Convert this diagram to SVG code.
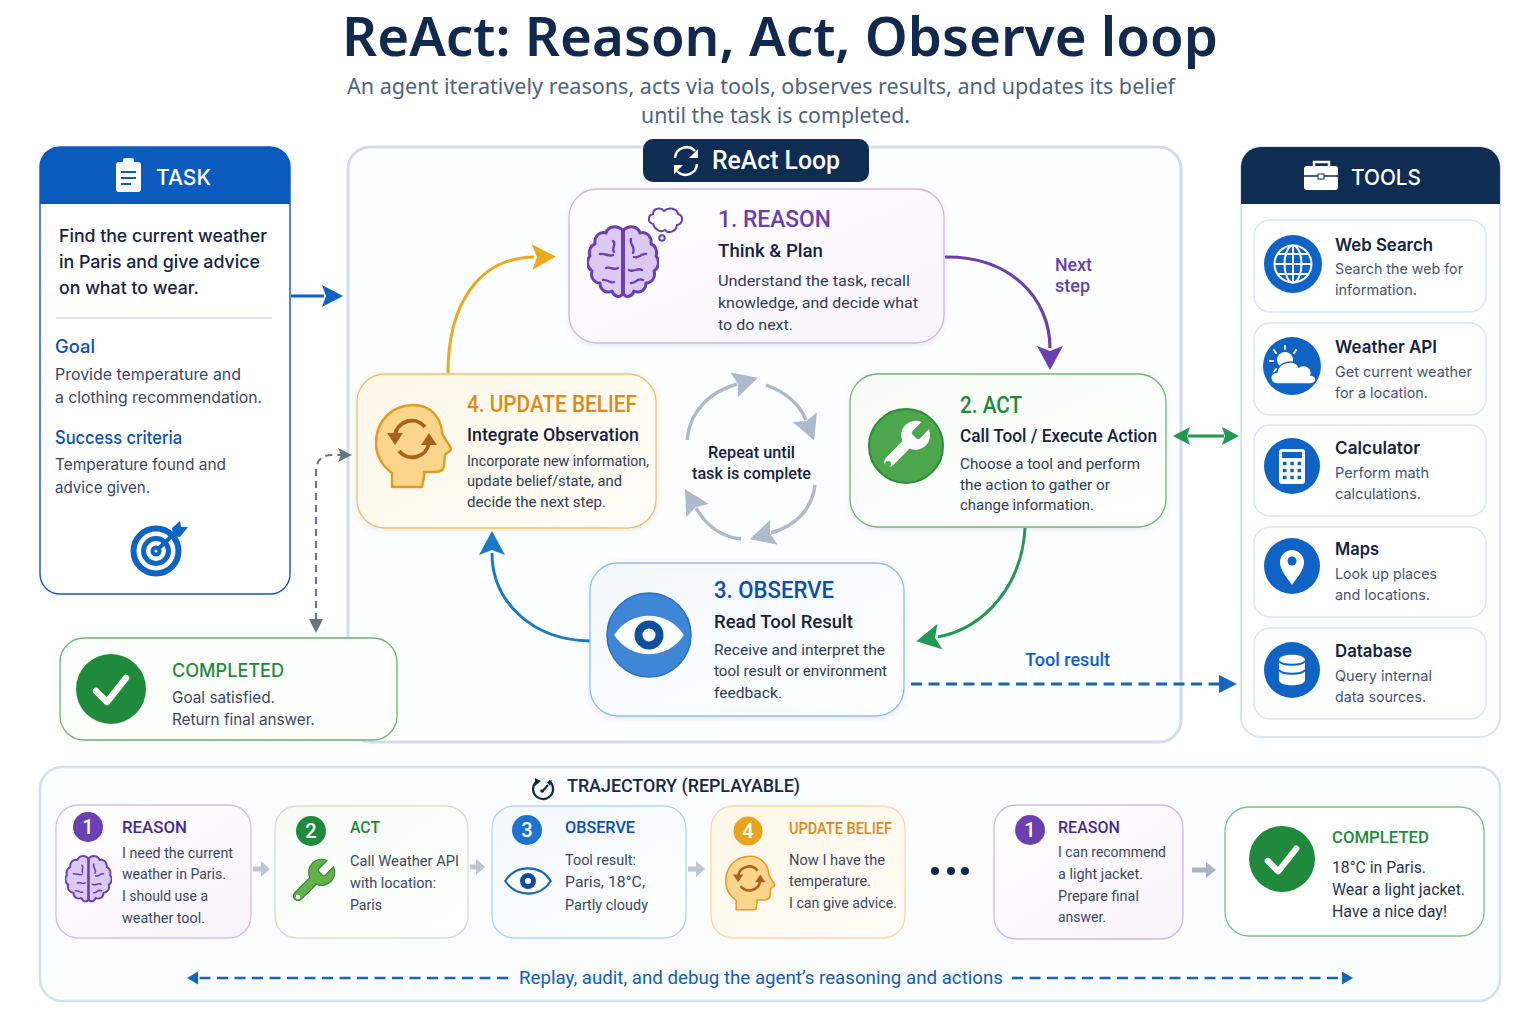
<svg xmlns="http://www.w3.org/2000/svg" width="1536" height="1024" viewBox="0 0 1536 1024">
<style>
text{font-family:Roboto,"Liberation Sans",sans-serif;fill:#26344f}
.title{font-family:"Noto Sans",sans-serif;font-size:55px;font-weight:600;fill:#10294d}
.sub{font-family:"Noto Sans",sans-serif;font-size:22px;fill:#4f627e}
.hd{font-family:Inter,sans-serif;font-size:22px;font-weight:500;fill:#fff}
.tt{font-size:24px;font-weight:500}
.st{font-size:19px;font-weight:500;fill:#14233f}
.bd{font-size:15.5px;fill:#2f3c54}
.bs{font-size:14.5px;fill:#2f3c54}
.tk{font-family:Inter,sans-serif;font-size:17.5px;font-weight:500;fill:#14233f}
.lb{font-family:Inter,sans-serif;font-size:18px;font-weight:500;fill:#0b4fb5}
.b2{font-family:Inter,sans-serif;font-size:16px;fill:#3a4760}
.tn{font-family:Inter,sans-serif;font-size:17.5px;font-weight:600;fill:#14233f}
.td{font-family:Inter,sans-serif;font-size:14.5px;fill:#465470}
.ct{font-size:16.5px;font-weight:500}
.cb{font-size:14.5px;fill:#3a4760}
.c3{font-size:16px;fill:#26344f}
.num{font-size:20px;font-weight:500;fill:#fff;text-anchor:middle}
.card{stroke-width:1.3}
.pu{fill:#6a3fb0}.gr{fill:#1f8a3b}.bl{fill:#0b4fb5}.or{fill:#dd8a1c}.pd{fill:#4a2b95}
.lbl{font-size:18px;font-weight:500}
.conn{fill:none}
</style>
<defs>
<filter id="sh" x="-10%" y="-10%" width="120%" height="125%"><feDropShadow dx="0" dy="2" stdDeviation="3" flood-color="#5a6b8c" flood-opacity=".14"/></filter>
<linearGradient id="gp" x1="0" y1="0" x2="1" y2="1"><stop offset="0" stop-color="#fff"/><stop offset="1" stop-color="#f8f3fd"/></linearGradient>
<linearGradient id="gg" x1="0" y1="0" x2="1" y2="1"><stop offset="0" stop-color="#f7fbf5"/><stop offset="1" stop-color="#fff"/></linearGradient>
<linearGradient id="gb" x1="0" y1="0" x2="1" y2="1"><stop offset="0" stop-color="#f3f8fe"/><stop offset="1" stop-color="#fff"/></linearGradient>
<linearGradient id="go" x1="0" y1="0" x2="1" y2="1"><stop offset="0" stop-color="#fff7e8"/><stop offset="1" stop-color="#fffdf8"/></linearGradient>
<marker id="mPur" markerUnits="userSpaceOnUse" markerWidth="26" markerHeight="28" refX="2" refY="14" orient="auto"><path d="M0 1L24 14L0 27L5 14Z" fill="#6a3fb0"/></marker>
<marker id="mOrg" markerUnits="userSpaceOnUse" markerWidth="26" markerHeight="28" refX="2" refY="14" orient="auto"><path d="M0 1L24 14L0 27L5 14Z" fill="#e9aa1d"/></marker>
<marker id="mGrn" markerUnits="userSpaceOnUse" markerWidth="26" markerHeight="28" refX="2" refY="14" orient="auto"><path d="M0 1L24 14L0 27L5 14Z" fill="#1f9a50"/></marker>
<marker id="mBlu" markerUnits="userSpaceOnUse" markerWidth="26" markerHeight="28" refX="2" refY="14" orient="auto"><path d="M0 1L24 14L0 27L5 14Z" fill="#1a78c9"/></marker>
<marker id="mTask" markerUnits="userSpaceOnUse" markerWidth="24" markerHeight="24" refX="2" refY="11" orient="auto"><path d="M0 0L21 11L0 22L4 11Z" fill="#0f63c4"/></marker>
<marker id="mDb" markerUnits="userSpaceOnUse" markerWidth="20" markerHeight="20" refX="2" refY="9" orient="auto"><path d="M0 0L18 9L0 18Z" fill="#1467bd"/></marker>
<marker id="mGs" markerUnits="userSpaceOnUse" markerWidth="18" markerHeight="18" refX="4" refY="7" orient="auto"><path d="M0 0L14 7L0 14L3 7Z" fill="#6a7487"/></marker>
<marker id="mG2" markerUnits="userSpaceOnUse" markerWidth="20" markerHeight="20" refX="2" refY="9" orient="auto"><path d="M0 0L17 9L0 18L3 9Z" fill="#1f9a50"/></marker>
<marker id="mG2s" markerUnits="userSpaceOnUse" markerWidth="20" markerHeight="20" refX="15" refY="9" orient="auto"><path d="M17 0L0 9L17 18L14 9Z" fill="#1f9a50"/></marker>
<marker id="mCy" markerUnits="userSpaceOnUse" markerWidth="28" markerHeight="28" refX="3" refY="13" orient="auto"><path d="M0 0L25 13L0 26L4 13Z" fill="#aebacb"/></marker>
<marker id="mDs" markerUnits="userSpaceOnUse" markerWidth="14" markerHeight="14" refX="1" refY="6.5" orient="auto"><path d="M0 0L11 6.5L0 13Z" fill="#1467bd"/></marker>
<symbol id="brain" viewBox="0 0 72 76">
<g fill="#dcc9f1" stroke="#6a3fb0" stroke-width="3" stroke-linejoin="round">
<path d="M35.500 6C30 1 21 2 19 9C13 7 7 12 8 20C4 21 1 27 3 32C-1 36 0 44 5 47C3 53 7 59 13 59C13 66 19 70 25 67C27 73 33 74 35.500 70Z"/>
<path d="M36.500 6C42 1 51 2 53 9C59 7 65 12 64 20C68 21 71 27 69 32C73 36 72 44 67 47C69 53 65 59 59 59C59 66 53 70 47 67C45 73 39 74 36.500 70Z"/>
</g>
<g fill="none" stroke="#6a3fb0" stroke-width="2.400" stroke-linecap="round">
<path d="M26 17C30 20 24 24 27 28M13 30C18 29 22 33 26 31M19 44C23 42 27 47 31 44M16 56C21 55 23 60 27 58"/>
<path d="M44 15C42 20 49 23 46 29M59 30C54 29 52 35 47 33M55 46C50 43 47 49 42 46M56 56C50 53 49 60 44 59"/>
</g>
</symbol>
<symbol id="head" viewBox="0 0 78 86">
<path d="M17 84V70C6 62 1 52 1 40C1 17 18 2 38 2C56 2 66 15 67 29C67 33 76 43 76 46C76 49 70 50 70 52L69 62C69 67 65 69 60 69H49V74L47 84Z" fill="#fcd58c" stroke="#e29b22" stroke-width="2.400" stroke-linejoin="round"/>
<g fill="none" stroke="#a9621b" stroke-width="4">
<path d="M50 24A17 17 0 0 0 20 32"/>
<path d="M24 48A17 17 0 0 0 54 40"/>
</g>
<path d="M12 30L28 30L20 42Z M46 42L62 42L54 30Z" fill="#a9621b"/>
</symbol>
<symbol id="wrench" viewBox="0 0 24 24">
<path d="M14.7 6.3a1 1 0 0 0 0 1.4l1.6 1.6a1 1 0 0 0 1.4 0l3.77-3.77a6 6 0 0 1-7.94 7.94l-6.91 6.91a2.12 2.12 0 0 1-3-3l6.91-6.91a6 6 0 0 1 7.94-7.94l-3.76 3.76z"/>
</symbol>
<symbol id="eye" viewBox="0 0 80 48">
<path d="M2 24C20 -4 60 -4 78 24C60 52 20 52 2 24Z"/>
</symbol>
<symbol id="check" viewBox="0 0 40 40"><path d="M5 22L16 33L35 9" fill="none" stroke="#fff" stroke-width="6.500" stroke-linecap="round" stroke-linejoin="round"/></symbol>
</defs>

<rect width="1536" height="1024" fill="#fff"/>
<text class="title" x="342" y="56" textLength="876" lengthAdjust="spacingAndGlyphs">ReAct: Reason, Act, Observe loop</text>
<text class="sub" x="347" y="94" textLength="828" lengthAdjust="spacingAndGlyphs">An agent iteratively reasons, acts via tools, observes results, and updates its belief</text>
<text class="sub" x="641" y="123" textLength="269" lengthAdjust="spacingAndGlyphs">until the task is completed.</text>

<g id="loop-panel">
<rect x="348" y="147" width="833" height="595" rx="22" fill="#fdfeff" stroke="#d3dbec" stroke-width="3"/>
</g>
<g id="trajectory-panel">
<rect x="40" y="767" width="1460" height="234" rx="22" fill="#fbfcfe" stroke="#d6e0ea" stroke-width="2.500"/>
<g fill="none" stroke="#10294d" stroke-width="2.200"><path d="M549 781A10 10 0 1 1 536 782"/><path d="M542 792L548 785"/></g>
<path d="M535 778L541 781L535 786ZM547 782L552 780L550 786Z" fill="#10294d"/><circle cx="542" cy="791" r="1.800" fill="#10294d"/>
<text x="567" y="792" font-size="18" font-weight="500" style="fill:#14294a" textLength="233" lengthAdjust="spacingAndGlyphs">TRAJECTORY (REPLAYABLE)</text>
</g>

<g id="task">
<path d="M40 204V167a20 20 0 0 1 20-20H270a20 20 0 0 1 20 20V204Z" fill="#0b5bbf"/>
<rect x="40" y="147" width="250" height="447" rx="20" fill="none" stroke="#0b5bbf" stroke-width="1.400"/>
<rect x="116" y="162" width="25" height="30" rx="3" fill="#fff"/><rect x="123" y="158" width="11" height="8" rx="2" fill="#fff"/>
<path d="M121 172H136M121 178H136M121 184H131" stroke="#0b5bbf" stroke-width="2"/>
<text class="hd" x="156" y="185" textLength="55" lengthAdjust="spacingAndGlyphs">TASK</text>
<text class="tk" x="59" y="242" textLength="208" lengthAdjust="spacingAndGlyphs">Find the current weather</text>
<text class="tk" x="59" y="268" textLength="201" lengthAdjust="spacingAndGlyphs">in Paris and give advice</text>
<text class="tk" x="59" y="294" textLength="140" lengthAdjust="spacingAndGlyphs">on what to wear.</text>
<path d="M56 318H272" stroke="#d5dcec" stroke-width="1.600"/>
<text class="lb" x="55" y="353" textLength="40" lengthAdjust="spacingAndGlyphs">Goal</text>
<text class="b2" x="55" y="380" textLength="186" lengthAdjust="spacingAndGlyphs">Provide temperature and</text>
<text class="b2" x="55" y="403" textLength="207" lengthAdjust="spacingAndGlyphs">a clothing recommendation.</text>
<text class="lb" x="55" y="444" textLength="127" lengthAdjust="spacingAndGlyphs">Success criteria</text>
<text class="b2" x="55" y="470" textLength="171" lengthAdjust="spacingAndGlyphs">Temperature found and</text>
<text class="b2" x="55" y="493" textLength="95" lengthAdjust="spacingAndGlyphs">advice given.</text>
<g fill="none" stroke="#0f63c4">
<circle cx="156" cy="551" r="22.500" stroke-width="6"/><circle cx="156" cy="551" r="12.500" stroke-width="5"/><circle cx="156" cy="551" r="3.500" stroke-width="4"/>
<path d="M157 550L178 530" stroke-width="4"/></g>
<path d="M172 528L180 521L181 527L188 527L180 537L173 536Z" fill="#0f63c4"/>
</g>

<g id="pill">
<rect x="643" y="139" width="226" height="43" rx="10" fill="#0f2c52"/>
<g fill="none" stroke="#fff" stroke-width="2.600"><path d="M675 158a11.500 11.500 0 0 1 20-7"/><path d="M697 164a11.500 11.500 0 0 1-20 7"/></g>
<path d="M698 149V158H689ZM674 174V165H683Z" fill="#fff"/>
<text x="712" y="169" font-size="25" font-weight="500" style="fill:#fff" textLength="128" lengthAdjust="spacingAndGlyphs">ReAct Loop</text>
</g>

<g id="connectors" class="conn">
<path d="M291 296H324" stroke="#0f63c4" stroke-width="3" marker-end="url(#mTask)"/>
<path d="M448 373C448 305 478 258 534 257" stroke="#e9aa1d" stroke-width="3" marker-end="url(#mOrg)"/>
<path d="M945 257C1010 256 1050 298 1050 348" stroke="#6a3fb0" stroke-width="3.200" marker-end="url(#mPur)"/>
<path d="M1025 528C1022 585 985 628 938 637" stroke="#1f9a50" stroke-width="3" marker-end="url(#mGrn)"/>
<path d="M590 641C530 640 492 600 492 553" stroke="#1a78c9" stroke-width="3" marker-end="url(#mBlu)"/>
<path d="M1188 436H1224" stroke="#1f9a50" stroke-width="3" marker-start="url(#mG2s)" marker-end="url(#mG2)"/>
<path d="M911 684H1221" stroke="#1467bd" stroke-width="3" stroke-dasharray="11 6.500" marker-end="url(#mDb)"/>
<path d="M316 620V472C316 462 320 456 330 455H342" stroke="#6a7487" stroke-width="2.200" stroke-dasharray="7 5" marker-end="url(#mGs)"/>
<path d="M309 619H323L316 633Z" fill="#6a7487"/>
<g stroke="#aebacb" stroke-width="3.400">
<path d="M687 440C690 410 710 392 737 384" marker-end="url(#mCy)"/>
<path d="M766 385C786 392 800 405 806 420" marker-end="url(#mCy)"/>
<path d="M815 485C812 510 795 526 771 533" marker-end="url(#mCy)"/>
<path d="M741 539C722 537 707 527 696 508" marker-end="url(#mCy)"/>
</g>
<path d="M508 978H197" stroke="#1467bd" stroke-width="2.600" stroke-dasharray="11 6.500" marker-end="url(#mDs)"/>
<path d="M1012 978H1343" stroke="#1467bd" stroke-width="2.600" stroke-dasharray="11 6.500" marker-end="url(#mDs)"/>
</g>

<g id="reason">
<rect class="card" x="569" y="189" width="375" height="154" rx="28" fill="url(#gp)" stroke="#cdb9e8" filter="url(#sh)"/>
<use href="#brain" x="587" y="224" width="72" height="76"/>
<g fill="#fff" stroke="#6a3fb0" stroke-width="2">
<path d="M653 224C647 222 648 215 653 214C653 208 661 207 664 211C668 207 677 208 678 214C684 216 683 224 677 225C676 232 668 234 665 230C661 233 655 230 653 224Z"/>
<circle cx="662" cy="238" r="2.700"/>
</g>
<text class="tt pu" x="718" y="227" textLength="113" lengthAdjust="spacingAndGlyphs">1. REASON</text>
<text class="st" x="718" y="257" textLength="105" lengthAdjust="spacingAndGlyphs">Think &amp; Plan</text>
<text class="bd" x="718" y="286" textLength="192" lengthAdjust="spacingAndGlyphs">Understand the task, recall</text>
<text class="bd" x="718" y="308" textLength="200" lengthAdjust="spacingAndGlyphs">knowledge, and decide what</text>
<text class="bd" x="718" y="330" textLength="75" lengthAdjust="spacingAndGlyphs">to do next.</text>
</g>
<text class="lbl pu" x="1055" y="271" textLength="37" lengthAdjust="spacingAndGlyphs">Next</text>
<text class="lbl pu" x="1055" y="292" textLength="35" lengthAdjust="spacingAndGlyphs">step</text>

<g id="update-belief">
<rect class="card" x="357" y="374" width="299" height="154" rx="28" fill="url(#go)" stroke="#f2c164" filter="url(#sh)"/>
<use href="#head" x="375" y="403" width="78" height="86"/>
<text class="tt or" x="467" y="412" textLength="170" lengthAdjust="spacingAndGlyphs">4. UPDATE BELIEF</text>
<text class="st" x="467" y="441" textLength="172" lengthAdjust="spacingAndGlyphs">Integrate Observation</text>
<text class="bs" x="467" y="466" textLength="182" lengthAdjust="spacingAndGlyphs">Incorporate new information,</text>
<text class="bs" x="467" y="486" textLength="155" lengthAdjust="spacingAndGlyphs">update belief/state, and</text>
<text class="bs" x="467" y="507" textLength="139" lengthAdjust="spacingAndGlyphs">decide the next step.</text>
</g>

<g id="repeat">
<text x="708" y="458" font-size="16.500" font-weight="500" style="fill:#14233f" textLength="87" lengthAdjust="spacingAndGlyphs">Repeat until</text>
<text x="692" y="479" font-size="16.500" font-weight="500" style="fill:#14233f" textLength="119" lengthAdjust="spacingAndGlyphs">task is complete</text>
</g>

<g id="act">
<rect class="card" x="850" y="374" width="316" height="153" rx="28" fill="url(#gg)" stroke="#73b676" filter="url(#sh)"/>
<circle cx="906" cy="446" r="37" fill="#4ca64c" stroke="#2d8a3a" stroke-width="2"/>
<use href="#wrench" x="877" y="416" width="58" height="58" fill="#fff"/>
<circle cx="888" cy="464" r="3" fill="#4ca64c"/>
<text class="tt gr" x="960" y="413" textLength="62" lengthAdjust="spacingAndGlyphs">2. ACT</text>
<text class="st" x="960" y="442" textLength="197" lengthAdjust="spacingAndGlyphs">Call Tool / Execute Action</text>
<text class="bd" x="960" y="469" textLength="180" lengthAdjust="spacingAndGlyphs">Choose a tool and perform</text>
<text class="bd" x="960" y="490" textLength="150" lengthAdjust="spacingAndGlyphs">the action to gather or</text>
<text class="bd" x="960" y="510" textLength="134" lengthAdjust="spacingAndGlyphs">change information.</text>
</g>

<g id="observe">
<rect class="card" x="590" y="563" width="314" height="153" rx="28" fill="url(#gb)" stroke="#93bee9" filter="url(#sh)"/>
<circle cx="649" cy="635" r="42" fill="#3f86d6" stroke="#2b6fc0" stroke-width="1.500"/>
<use href="#eye" x="612" y="613" width="74" height="44" fill="#fff"/>
<circle cx="649" cy="635" r="10.500" fill="#fff" stroke="#0f4f9e" stroke-width="8"/>
<text class="tt bl" x="714" y="598" textLength="120" lengthAdjust="spacingAndGlyphs">3. OBSERVE</text>
<text class="st" x="714" y="628" textLength="139" lengthAdjust="spacingAndGlyphs">Read Tool Result</text>
<text class="bd" x="714" y="655" textLength="171" lengthAdjust="spacingAndGlyphs">Receive and interpret the</text>
<text class="bd" x="714" y="676" textLength="173" lengthAdjust="spacingAndGlyphs">tool result or environment</text>
<text class="bd" x="714" y="698" textLength="68" lengthAdjust="spacingAndGlyphs">feedback.</text>
</g>
<text class="lbl" style="fill:#0f5fbf" x="1025" y="666" textLength="85" lengthAdjust="spacingAndGlyphs">Tool result</text>

<g id="completed">
<rect x="60" y="638" width="337" height="102" rx="24" fill="#fdfffc" stroke="#6bb56e" stroke-width="1.300"/>
<circle cx="111" cy="689" r="35" fill="#1f8a3b"/>
<use href="#check" x="89" y="669" width="44" height="40"/>
<text class="lb gr" style="fill:#1f8a3b" x="172" y="677" textLength="112" lengthAdjust="spacingAndGlyphs">COMPLETED</text>
<text class="b2" x="172" y="703" textLength="103" lengthAdjust="spacingAndGlyphs">Goal satisfied.</text>
<text class="b2" x="172" y="725" textLength="143" lengthAdjust="spacingAndGlyphs">Return final answer.</text>
</g>

<g id="tools">
<rect x="1241" y="147" width="259" height="590" rx="20" fill="#fff" stroke="#dde4f1" stroke-width="2"/>
<path d="M1241 204V167a20 20 0 0 1 20-20H1480a20 20 0 0 1 20 20V204Z" fill="#0f2c52"/>
<rect x="1304" y="166" width="34" height="24" rx="3" fill="#fff"/>
<path d="M1314 166V162H1329V166" fill="none" stroke="#fff" stroke-width="2.500"/>
<path d="M1304 176H1338" stroke="#0f2c52" stroke-width="1.600"/><rect x="1318" y="174" width="6" height="5" fill="#fff" stroke="#0f2c52"/>
<text class="hd" x="1351" y="185" textLength="70" lengthAdjust="spacingAndGlyphs">TOOLS</text>
</g>

<g id="tool-web-search">
<rect x="1254" y="220" width="232" height="92" rx="16" fill="#fff" stroke="#dbe5f5" stroke-width="1.500"/>
<circle cx="1293" cy="264" r="29" fill="#0f63c4"/>
<g fill="none" stroke="#fff" stroke-width="2"><circle cx="1293" cy="264" r="18.500"/><ellipse cx="1293" cy="264" rx="8.500" ry="18.500"/><path d="M1293 245V283M1275 264H1311M1278 254H1308M1278 274H1308"/></g>
<text class="tn" x="1335" y="251" textLength="98" lengthAdjust="spacingAndGlyphs">Web Search</text>
<text class="td" x="1335" y="274" textLength="128" lengthAdjust="spacingAndGlyphs">Search the web for</text>
<text class="td" x="1335" y="295" textLength="82" lengthAdjust="spacingAndGlyphs">information.</text>
</g>
<g id="tool-weather-api">
<rect x="1254" y="323" width="232" height="92" rx="16" fill="#fff" stroke="#dbe5f5" stroke-width="1.500"/>
<circle cx="1292" cy="366" r="29" fill="#0f63c4"/>
<circle cx="1285" cy="360" r="8" fill="#fff"/>
<path d="M1285 346V349M1274 350L1276 353M1270 361H1273M1274 372L1276 369M1296 350L1294 353" stroke="#fff" stroke-width="2" stroke-linecap="round"/>
<path d="M1278 384C1269 384 1268 373 1277 372C1279 361 1295 359 1299 367C1305 363 1313 368 1311 375C1318 376 1317 384 1310 384Z" fill="#fff" stroke="#0f63c4" stroke-width="1.500"/>
<text class="tn" x="1335" y="353" textLength="102" lengthAdjust="spacingAndGlyphs">Weather API</text>
<text class="td" x="1335" y="377" textLength="137" lengthAdjust="spacingAndGlyphs">Get current weather</text>
<text class="td" x="1335" y="398" textLength="93" lengthAdjust="spacingAndGlyphs">for a location.</text>
</g>
<g id="tool-calculator">
<rect x="1254" y="425" width="232" height="91" rx="16" fill="#fff" stroke="#dbe5f5" stroke-width="1.500"/>
<circle cx="1292" cy="466" r="28" fill="#0f63c4"/>
<rect x="1279" y="449" width="26" height="35" rx="3" fill="#fff"/>
<rect x="1282" y="452" width="20" height="6" fill="#0f63c4"/>
<path d="M1283 463.500H1301M1283 470.500H1301M1283 477.500H1301" stroke="#0f63c4" stroke-width="3.500" stroke-dasharray="3.500 3.800"/>
<text class="tn" x="1335" y="454" textLength="85" lengthAdjust="spacingAndGlyphs">Calculator</text>
<text class="td" x="1335" y="478" textLength="94" lengthAdjust="spacingAndGlyphs">Perform math</text>
<text class="td" x="1335" y="499" textLength="86" lengthAdjust="spacingAndGlyphs">calculations.</text>
</g>
<g id="tool-maps">
<rect x="1254" y="527" width="232" height="90" rx="16" fill="#fff" stroke="#dbe5f5" stroke-width="1.500"/>
<circle cx="1292" cy="566" r="28" fill="#0f63c4"/>
<path d="M1292 585C1286 576 1280 570 1280 562C1280 555 1286 550 1292 550C1298 550 1304 555 1304 562C1304 570 1298 576 1292 585Z" fill="#fff"/>
<circle cx="1292" cy="561" r="4.500" fill="#0f63c4"/>
<text class="tn" x="1335" y="555" textLength="44" lengthAdjust="spacingAndGlyphs">Maps</text>
<text class="td" x="1335" y="579" textLength="102" lengthAdjust="spacingAndGlyphs">Look up places</text>
<text class="td" x="1335" y="600" textLength="95" lengthAdjust="spacingAndGlyphs">and locations.</text>
</g>
<g id="tool-database">
<rect x="1254" y="628" width="232" height="91" rx="16" fill="#fff" stroke="#dbe5f5" stroke-width="1.500"/>
<circle cx="1292" cy="670" r="28" fill="#0f63c4"/>
<path d="M1279 660C1279 653 1305 653 1305 660V680C1305 687 1279 687 1279 680Z" fill="#fff"/>
<path d="M1279 661C1282 666 1302 666 1305 661M1279 670C1282 675 1302 675 1305 670" fill="none" stroke="#0f63c4" stroke-width="2"/>
<text class="tn" x="1335" y="657" textLength="77" lengthAdjust="spacingAndGlyphs">Database</text>
<text class="td" x="1335" y="681" textLength="97" lengthAdjust="spacingAndGlyphs">Query internal</text>
<text class="td" x="1335" y="702" textLength="91" lengthAdjust="spacingAndGlyphs">data sources.</text>
</g>

<g id="traj-reason">
<rect class="card" x="56" y="805" width="195" height="133" rx="22" fill="url(#gp)" stroke="#d0bfe8"/>
<circle cx="88" cy="827" r="15" fill="#6a3fb0"/><text class="num" x="88" y="834">1</text>
<text class="ct pd" x="122" y="833" textLength="65" lengthAdjust="spacingAndGlyphs">REASON</text>
<use href="#brain" x="65" y="854" width="47" height="50"/>
<text class="cb" x="122" y="858" textLength="111" lengthAdjust="spacingAndGlyphs">I need the current</text>
<text class="cb" x="122" y="879" textLength="104" lengthAdjust="spacingAndGlyphs">weather in Paris.</text>
<text class="cb" x="122" y="901" textLength="86" lengthAdjust="spacingAndGlyphs">I should use a</text>
<text class="cb" x="122" y="923" textLength="83" lengthAdjust="spacingAndGlyphs">weather tool.</text>
</g>
<g id="traj-act">
<rect class="card" x="275" y="806" width="193" height="132" rx="22" fill="url(#gg)" stroke="#cfe3c8"/>
<circle cx="311" cy="831" r="15" fill="#1f8a3b"/><text class="num" x="311" y="838">2</text>
<text class="ct gr" x="350" y="833" textLength="30" lengthAdjust="spacingAndGlyphs">ACT</text>
<use href="#wrench" x="287" y="855" width="52" height="52" fill="#66b04a" stroke="#2d8a3a" stroke-width=".6"/>
<circle cx="298" cy="897" r="2.300" fill="#fff"/>
<text class="cb" x="350" y="866" textLength="109" lengthAdjust="spacingAndGlyphs">Call Weather API</text>
<text class="cb" x="350" y="888" textLength="86" lengthAdjust="spacingAndGlyphs">with location:</text>
<text class="cb" x="350" y="910" textLength="32" lengthAdjust="spacingAndGlyphs">Paris</text>
</g>
<g id="traj-observe">
<rect class="card" x="492" y="806" width="194" height="132" rx="22" fill="url(#gb)" stroke="#b3d3ef"/>
<circle cx="527" cy="830" r="15" fill="#1f73cf"/><text class="num" x="527" y="837">3</text>
<text class="ct bl" x="565" y="833" textLength="70" lengthAdjust="spacingAndGlyphs">OBSERVE</text>
<use href="#eye" x="504" y="865" width="48" height="32" fill="#fff" stroke="#1a66b5" stroke-width="3.500"/>
<circle cx="528" cy="881" r="5.500" fill="#fff" stroke="#0f4f9e" stroke-width="5"/>
<text class="cb" x="565" y="865" textLength="71" lengthAdjust="spacingAndGlyphs">Tool result:</text>
<text class="cb" x="565" y="887" textLength="80" lengthAdjust="spacingAndGlyphs">Paris, 18°C,</text>
<text class="cb" x="565" y="910" textLength="83" lengthAdjust="spacingAndGlyphs">Partly cloudy</text>
</g>
<g id="traj-update">
<rect class="card" x="711" y="806" width="194" height="132" rx="22" fill="url(#go)" stroke="#f7d9a3"/>
<circle cx="748" cy="831" r="14.500" fill="#e9a41d"/><text class="num" x="748" y="838">4</text>
<text class="ct or" x="789" y="834" textLength="103" lengthAdjust="spacingAndGlyphs">UPDATE BELIEF</text>
<use href="#head" x="725" y="855" width="51" height="56"/>
<text class="cb" x="789" y="865" textLength="96" lengthAdjust="spacingAndGlyphs">Now I have the</text>
<text class="cb" x="789" y="886" textLength="82" lengthAdjust="spacingAndGlyphs">temperature.</text>
<text class="cb" x="789" y="908" textLength="108" lengthAdjust="spacingAndGlyphs">I can give advice.</text>
</g>
<g id="traj-ellipsis" fill="#10294d"><circle cx="935" cy="871" r="4"/><circle cx="951" cy="871" r="4"/><circle cx="965" cy="871" r="4"/></g>
<g id="traj-reason-2">
<rect class="card" x="994" y="805" width="189" height="134" rx="22" fill="url(#gp)" stroke="#cdbbe6"/>
<circle cx="1030" cy="830" r="15" fill="#6a3fb0"/><text class="num" x="1030" y="837">1</text>
<text class="ct pd" x="1058" y="833" textLength="62" lengthAdjust="spacingAndGlyphs">REASON</text>
<text class="cb" x="1058" y="857" textLength="108" lengthAdjust="spacingAndGlyphs">I can recommend</text>
<text class="cb" x="1058" y="879" textLength="85" lengthAdjust="spacingAndGlyphs">a light jacket.</text>
<text class="cb" x="1058" y="901" textLength="81" lengthAdjust="spacingAndGlyphs">Prepare final</text>
<text class="cb" x="1058" y="922" textLength="48" lengthAdjust="spacingAndGlyphs">answer.</text>
</g>
<g id="traj-completed">
<rect class="card" x="1225" y="807" width="259" height="129" rx="24" fill="#fff" stroke="#7cc184"/>
<circle cx="1282" cy="859" r="33" fill="#1f8a3b"/>
<use href="#check" x="1260" y="840" width="44" height="38"/>
<text class="ct gr" x="1332" y="843" textLength="97" lengthAdjust="spacingAndGlyphs">COMPLETED</text>
<text class="c3" x="1332" y="873" textLength="94" lengthAdjust="spacingAndGlyphs">18°C in Paris.</text>
<text class="c3" x="1332" y="895" textLength="133" lengthAdjust="spacingAndGlyphs">Wear a light jacket.</text>
<text class="c3" x="1332" y="917" textLength="115" lengthAdjust="spacingAndGlyphs">Have a nice day!</text>
</g>
<g id="traj-arrows" fill="#bcc5d1">
<path d="M253 866.500H261V861L270 869L261 877V871.500H253Z"/>
<path d="M470 864.500H476V859L485 867L476 875V869.500H470Z"/>
<path d="M688 866.500H696V861L705 869L696 877V871.500H688Z"/>
<path d="M1192 867.500H1206V862L1216 870L1206 878V872.500H1192Z" fill="#a9b3c1"/>
</g>
<text x="519" y="984" font-size="18" style="fill:#0f5fbf" textLength="484" lengthAdjust="spacingAndGlyphs">Replay, audit, and debug the agent’s reasoning and actions</text>
</svg>
